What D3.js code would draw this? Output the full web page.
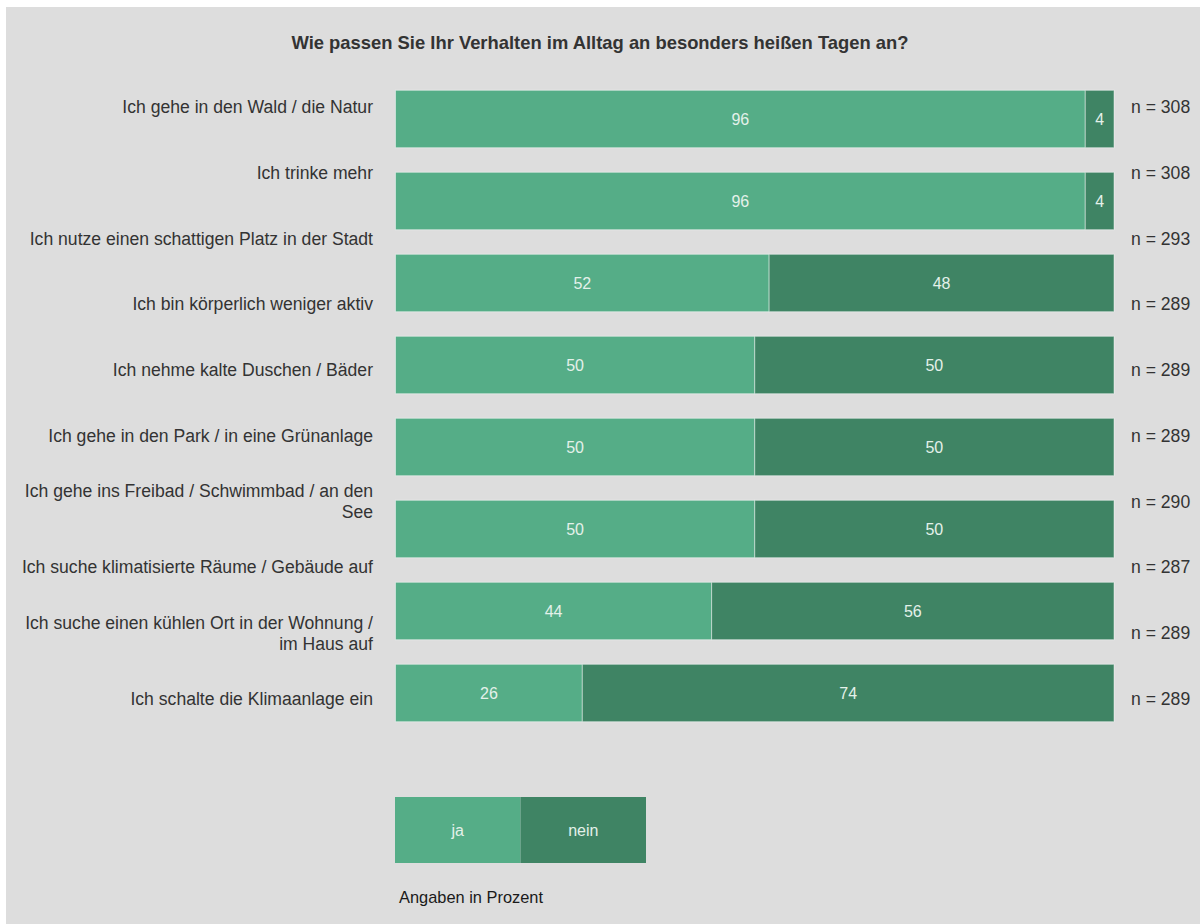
<!DOCTYPE html>
<html lang="de">
<head>
<meta charset="utf-8">
<title>Verhalten an heißen Tagen</title>
<script src="https://cdn.jsdelivr.net/npm/d3@7"></script>
<style>
  html, body { margin: 0; padding: 0; background: #ffffff; }
  svg { display: block; font-family: "Liberation Sans", Arial, Helvetica, sans-serif; }
</style>
</head>
<body>
<svg id="chart" width="1200" height="924"></svg>
<script>
// Survey items (row labels) and their sample sizes
const categories = [
  "Ich gehe in den Wald / die Natur",
  "Ich trinke mehr",
  "Ich nutze einen schattigen Platz in der Stadt",
  "Ich bin körperlich weniger aktiv",
  "Ich nehme kalte Duschen / Bäder",
  "Ich gehe in den Park / in eine Grünanlage",
  "Ich gehe ins Freibad / Schwimmbad / an den See",
  "Ich suche klimatisierte Räume / Gebäude auf",
  "Ich suche einen kühlen Ort in der Wohnung / im Haus auf",
  "Ich schalte die Klimaanlage ein"
];
const nValues = [308, 308, 293, 289, 289, 289, 290, 287, 289, 289];

// Stacked bar rows (percent)
const jaValues   = [96, 96, 52, 50, 50, 50, 44, 26];
const neinValues = [4, 4, 48, 50, 50, 50, 56, 74];

const seriesKeys = ["ja", "nein"];
const seriesColors = ["#55ad87", "#3f8464"];

const titleText = "Wie passen Sie Ihr Verhalten im Alltag an besonders heißen Tagen an?";
const noteText = "Angaben in Prozent";

const svg = d3.select("#chart");
const W = 1200, H = 924;

// panel background
svg.append("rect")
  .attr("x", 6).attr("y", 7)
  .attr("width", W - 6).attr("height", H - 7)
  .attr("fill", "#dddddd");

// title
svg.append("text")
  .attr("x", 600).attr("y", 44)
  .attr("text-anchor", "middle")
  .attr("dominant-baseline", "middle")
  .attr("font-size", "18.4px")
  .attr("font-weight", "bold")
  .attr("fill", "#333333")
  .text(titleText);

const color = d3.scaleOrdinal().domain(seriesKeys).range(seriesColors);

const x = d3.scaleLinear().domain([0, 100]).range([395.5, 1114]);

const rows = jaValues.map((v, i) => ({ ja: v, nein: neinValues[i], idx: i }));
const yBar = d3.scaleBand()
  .domain(rows.map(d => d.idx))
  .range([78, 734])
  .paddingInner(0.3)
  .paddingOuter(0.15);

const yLabel = d3.scalePoint()
  .domain(categories)
  .range([107, 699]);

const stack = d3.stack().keys(seriesKeys);
const stacked = stack(rows);

// stacked bars
const layer = svg.append("g").selectAll("g")
  .data(stacked)
  .join("g")
  .attr("fill", d => color(d.key));

layer.selectAll("rect")
  .data(d => d.map(s => ({ s, key: d.key })))
  .join("rect")
  .attr("x", d => x(d.s[0]))
  .attr("y", d => yBar(d.s.data.idx))
  .attr("width", d => x(d.s[1]) - x(d.s[0]))
  .attr("height", yBar.bandwidth())
  .attr("stroke", "rgba(255,255,255,0.45)")
  .attr("stroke-width", 1);

// value labels inside segments
const valueLayer = svg.append("g");
stacked.forEach(series => {
  valueLayer.selectAll(null)
    .data(series)
    .join("text")
    .attr("x", d => (x(d[0]) + x(d[1])) / 2)
    .attr("y", d => yBar(d.data.idx) + yBar.bandwidth() / 2)
    .attr("text-anchor", "middle")
    .attr("dominant-baseline", "central")
    .attr("font-size", "16px")
    .attr("fill", "#e4f1ea")
    .text(d => d[1] - d[0]);
});

// category labels (wrapped, right-aligned)
const labelX = 373;
const lineH = 21;
const maxLabelW = 362;
const labelG = svg.append("g")
  .attr("font-size", "17.6px")
  .attr("fill", "#333333");

categories.forEach(cat => {
  const t = labelG.append("text")
    .attr("x", labelX)
    .attr("text-anchor", "end")
    .attr("dominant-baseline", "central");
  const words = cat.split(" ");
  const lines = [];
  let current = [];
  const probe = t.append("tspan");
  words.forEach(w => {
    const trial = current.concat(w).join(" ");
    probe.text(trial);
    if (probe.node().getComputedTextLength() > maxLabelW && current.length) {
      lines.push(current.join(" "));
      current = [w];
    } else {
      current.push(w);
    }
  });
  lines.push(current.join(" "));
  probe.remove();
  const cy = yLabel(cat);
  const y0 = cy - (lines.length - 1) * lineH / 2;
  lines.forEach((ln, i) => {
    t.append("tspan")
      .attr("x", labelX)
      .attr("y", y0 + i * lineH)
      .text(ln);
  });
});

// sample sizes
svg.append("g")
  .attr("font-size", "17.6px")
  .attr("fill", "#333333")
  .selectAll("text")
  .data(categories)
  .join("text")
  .attr("x", 1131)
  .attr("y", d => yLabel(d))
  .attr("dominant-baseline", "central")
  .text((d, i) => "n = " + nValues[i]);

// legend
const xLeg = d3.scaleBand().domain(seriesKeys).range([395, 646]);
const leg = svg.append("g");
leg.selectAll("rect")
  .data(seriesKeys)
  .join("rect")
  .attr("x", d => xLeg(d))
  .attr("y", 797)
  .attr("width", xLeg.bandwidth())
  .attr("height", 66)
  .attr("fill", d => color(d));
leg.selectAll("text")
  .data(seriesKeys)
  .join("text")
  .attr("x", d => xLeg(d) + xLeg.bandwidth() / 2)
  .attr("y", 830)
  .attr("text-anchor", "middle")
  .attr("dominant-baseline", "central")
  .attr("font-size", "16px")
  .attr("fill", "#e4f1ea")
  .text(d => d);

// footnote
svg.append("text")
  .attr("x", 399)
  .attr("y", 897)
  .attr("dominant-baseline", "central")
  .attr("font-size", "16.4px")
  .attr("fill", "#1a1a1a")
  .text(noteText);
</script>
</body>
</html>
